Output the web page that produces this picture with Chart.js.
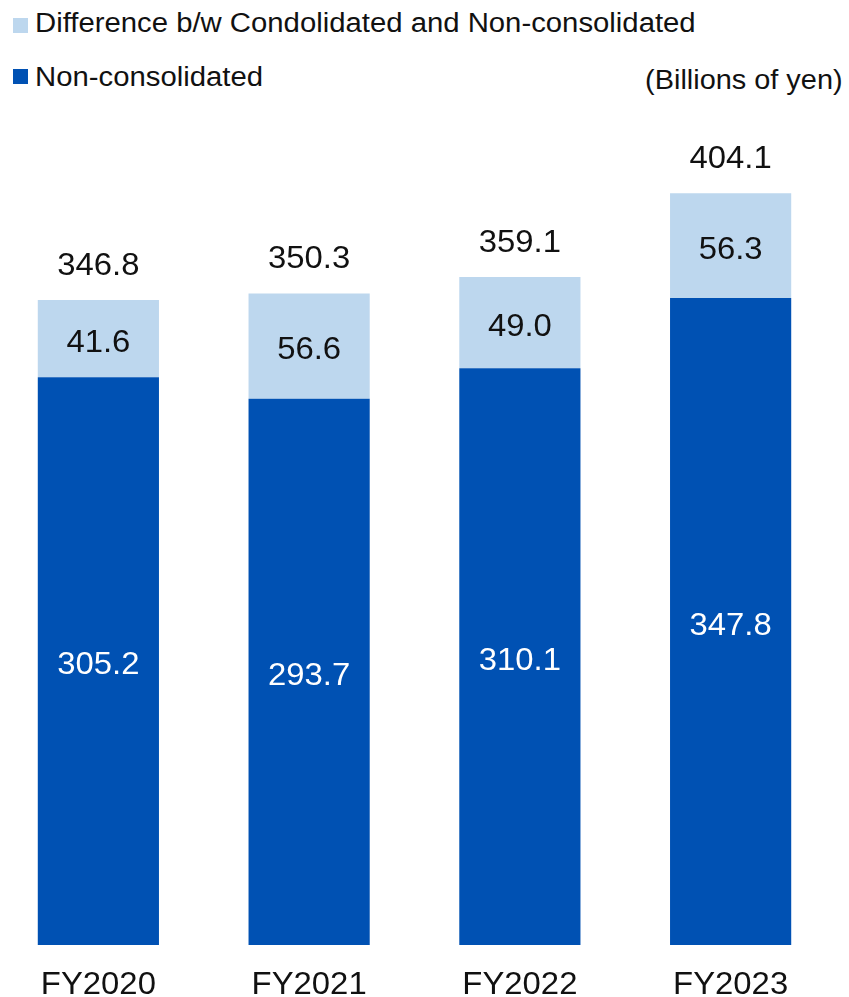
<!DOCTYPE html>
<html lang="en">
<head>
    <meta charset="UTF-8">
    <title>Non-consolidated and consolidated</title>
    <script src="https://cdn.jsdelivr.net/npm/chart.js"></script>
    <style>
        body { margin: 0; width: 849px; height: 997px; overflow: hidden; background: #fff; font-family: "Liberation Sans", Arial, sans-serif; position: relative; }
        #wrap { position: absolute; left: -7px; top: 0; width: 850px; height: 997px; }
        .key { position: absolute; left: 35px; font-size: 27px; line-height: 27px; color: #111; white-space: nowrap; transform: scaleX(1.085); transform-origin: left center; }
        .sq { position: absolute; left: 13px; width: 15px; height: 15px; }
        #unit { position: absolute; right: 6px; top: 67px; font-size: 27px; line-height: 27px; color: #111; transform: scaleX(1.07); transform-origin: right center; }
    </style>
</head>
<body>
    <div class="sq" style="top:18px;background:#BDD7EE"></div>
    <div class="key" style="top:10px">Difference b/w Condolidated and Non-consolidated</div>
    <div class="sq" style="top:69px;background:#0051B3"></div>
    <div class="key" style="top:64px">Non-consolidated</div>
    <div id="unit">(Billions of yen)</div>
    <div id="wrap"><canvas id="chart"></canvas></div>
    <script>
        const years = ['FY2020', 'FY2021', 'FY2022', 'FY2023'];
        const nonConsolidated = [305.2, 293.7, 310.1, 347.8];
        const difference = [41.6, 56.6, 49.0, 56.3];
        const totals = [346.8, 350.3, 359.1, 404.1];

        const FONT = '"Liberation Sans", Arial, sans-serif';

        // text in the reference is a bit wider than plain Arial
        function wideText(ctx, t, x, y) {
            ctx.save();
            ctx.translate(x, y);
            ctx.scale(1.06, 1);
            ctx.fillText(t, 0, 0);
            ctx.restore();
        }

        // values inside the segments, totals on top, year labels under the bars
        const labelPlugin = {
            id: 'labels',
            afterDatasetsDraw(chart) {
                const ctx = chart.ctx;
                const size = 31;
                ctx.save();
                ctx.font = size + 'px ' + FONT;
                ctx.textAlign = 'center';
                ctx.textBaseline = 'alphabetic';
                chart.data.datasets.forEach((ds, di) => {
                    chart.getDatasetMeta(di).data.forEach((bar, i) => {
                        const mid = (bar.y + bar.base) / 2 + 2;
                        ctx.fillStyle = di === 0 ? '#ffffff' : '#111111';
                        wideText(ctx, ds.data[i].toFixed(1), bar.x, mid + size * 0.358);
                    });
                });
                const top = chart.getDatasetMeta(1).data;
                ctx.fillStyle = '#111111';
                top.forEach((bar, i) => {
                    wideText(ctx, totals[i].toFixed(1), bar.x, bar.y - 25);
                });
                const xs = chart.scales.x;
                years.forEach((y, i) => {
                    wideText(ctx, y, xs.getPixelForValue(i), 994);
                });
                ctx.restore();
            }
        };

        new Chart(document.getElementById('chart'), {
            type: 'bar',
            data: {
                labels: years,
                datasets: [
                    { label: 'Non-consolidated', data: nonConsolidated, backgroundColor: '#0051B3' },
                    { label: 'Difference b/w Condolidated and Non-consolidated', data: difference, backgroundColor: '#BDD7EE' }
                ]
            },
            options: {
                responsive: true,
                maintainAspectRatio: false,
                animation: false,
                barPercentage: 0.575,
                categoryPercentage: 1,
                layout: { padding: { left: 0, right: 7, top: 108, bottom: 52 } },
                plugins: { legend: { display: false }, tooltip: { enabled: false } },
                scales: {
                    x: { stacked: true, display: false },
                    y: { stacked: true, display: false, min: 0, max: 450 }
                }
            },
            plugins: [labelPlugin]
        });
    </script>
</body>
</html>
